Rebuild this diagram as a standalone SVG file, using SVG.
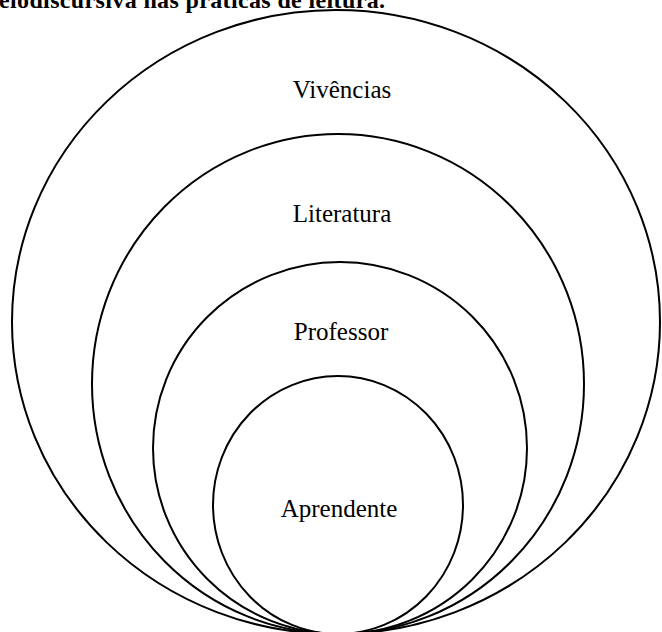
<svg xmlns="http://www.w3.org/2000/svg" width="662" height="632" viewBox="0 0 662 632">
  <style>
    .ring { fill: none; stroke: #000; stroke-width: 2; }
    .label { font-family: "Liberation Serif", "Times New Roman", serif; font-size: 25px; fill: #000; text-anchor: middle; }
    .caption { font-family: "Liberation Serif", "Times New Roman", serif; font-size: 24px; font-weight: bold; fill: #000; }
  </style>
  <rect width="662" height="632" fill="#fff"/>
  <text class="caption" x="-1" y="8" textLength="386" lengthAdjust="spacing">elodiscursiva nas práticas de leitura.</text>
  <g id="vivencias">
    <ellipse class="ring" cx="336" cy="322" rx="324" ry="312"/>
    <text class="label" x="342" y="98">Vivências</text>
  </g>
  <g id="literatura">
    <ellipse class="ring" cx="338" cy="384" rx="246" ry="250"/>
    <text class="label" x="342" y="222">Literatura</text>
  </g>
  <g id="professor">
    <ellipse class="ring" cx="340" cy="448" rx="187" ry="186"/>
    <text class="label" x="341" y="340">Professor</text>
  </g>
  <g id="aprendente">
    <ellipse class="ring" cx="338" cy="505" rx="125" ry="129"/>
    <text class="label" x="339" y="517">Aprendente</text>
  </g>
</svg>
